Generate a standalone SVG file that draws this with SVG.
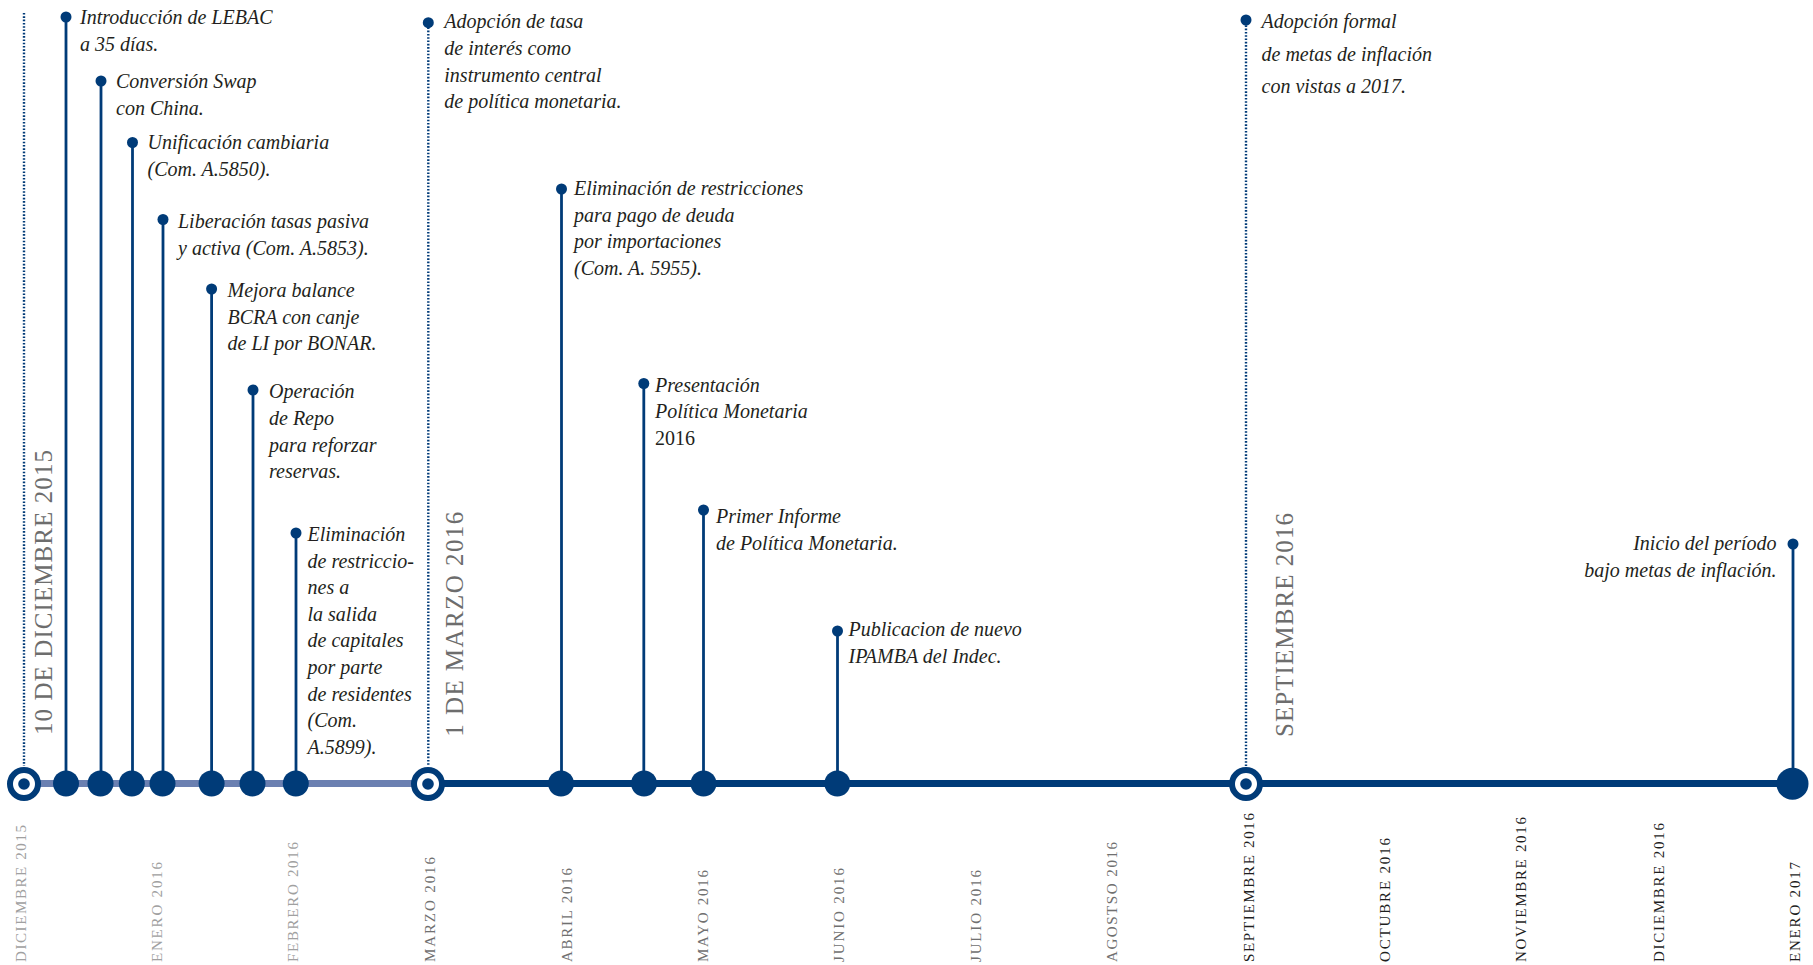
<svg xmlns="http://www.w3.org/2000/svg" width="1813" height="965" viewBox="0 0 1813 965">
<style>
.ev{font-family:"Liberation Serif","Times New Roman",serif;font-style:italic;font-size:20px;fill:#231f20}
.up{font-style:normal}
.big{font-family:"Liberation Serif","Times New Roman",serif;font-size:25px;fill:#6d6d6d}
.mo{font-family:"Liberation Serif","Times New Roman",serif;font-size:15px}
.m1{fill:#a0a0a0}.m2{fill:#707070}.m3{fill:#1e1e1e}
.stem{stroke:#003b78;stroke-width:2.8;fill:none}
.dot{stroke:#003b78;stroke-width:2.4;stroke-dasharray:1.6 1.7;fill:none}
.td{fill:#003b78}
.ad{fill:#003b78}
.ring{fill:#fff;stroke:#003b78;stroke-width:6}
</style>
<rect width="1813" height="965" fill="#fff"/>
<g id="connectors">
  <line x1="24" y1="783.5" x2="428" y2="783.5" stroke="#6b80b1" stroke-width="7"/>
  <line x1="428" y1="783.5" x2="1792" y2="783.5" stroke="#003b78" stroke-width="7"/>
  <line class="dot" x1="24" y1="13" x2="24" y2="766"/>
  <line class="dot" x1="428.3" y1="24" x2="428.3" y2="766"/>
  <line class="dot" x1="1246" y1="22" x2="1246" y2="766"/>
  <line class="stem" x1="66" y1="17" x2="66" y2="783"/>
  <line class="stem" x1="101" y1="81" x2="101" y2="783"/>
  <line class="stem" x1="132.5" y1="142.5" x2="132.5" y2="783"/>
  <line class="stem" x1="163" y1="219.5" x2="163" y2="783"/>
  <line class="stem" x1="211.6" y1="289" x2="211.6" y2="783"/>
  <line class="stem" x1="253" y1="390" x2="253" y2="783"/>
  <line class="stem" x1="296" y1="533" x2="296" y2="783"/>
  <line class="stem" x1="561.5" y1="189" x2="561.5" y2="783"/>
  <line class="stem" x1="643.8" y1="383.5" x2="643.8" y2="783"/>
  <line class="stem" x1="703.5" y1="510" x2="703.5" y2="783"/>
  <line class="stem" x1="837.5" y1="631" x2="837.5" y2="783"/>
  <line class="stem" x1="1793" y1="544" x2="1793" y2="783"/>
</g>
<g id="hito-dic2015">
  <circle class="ring" cx="24" cy="784" r="14"/>
  <circle class="ad" cx="24" cy="784" r="5.8"/>
  <text class="big" transform="translate(51.5,735) rotate(-90)" textLength="285" lengthAdjust="spacing">10 DE DICIEMBRE 2015</text>
</g>
<g id="ev1">
  <circle class="td" cx="66" cy="17" r="5.5"/>
  <circle class="ad" cx="66" cy="783.5" r="13"/>
  <text class="ev" x="80" y="24">Introducción de LEBAC</text>
  <text class="ev" x="80" y="51">a 35 días.</text>
</g>
<g id="ev2">
  <circle class="td" cx="101" cy="81" r="5.5"/>
  <circle class="ad" cx="100.5" cy="783.5" r="13"/>
  <text class="ev" x="116" y="88">Conversión Swap</text>
  <text class="ev" x="116" y="115">con China.</text>
</g>
<g id="ev3">
  <circle class="td" cx="132.5" cy="142.5" r="5.5"/>
  <circle class="ad" cx="131.8" cy="783.5" r="13"/>
  <text class="ev" x="147.5" y="149">Unificación cambiaria</text>
  <text class="ev" x="147.5" y="176">(Com. A.5850).</text>
</g>
<g id="ev4">
  <circle class="td" cx="163" cy="219.5" r="5.5"/>
  <circle class="ad" cx="162.5" cy="783.5" r="13"/>
  <text class="ev" x="178" y="228">Liberación tasas pasiva</text>
  <text class="ev" x="178" y="255">y activa (Com. A.5853).</text>
</g>
<g id="ev5">
  <circle class="td" cx="211.6" cy="289" r="5.5"/>
  <circle class="ad" cx="211.6" cy="783.5" r="13"/>
  <text class="ev" x="227.5" y="297">Mejora balance</text>
  <text class="ev" x="227.5" y="323.5">BCRA con canje</text>
  <text class="ev" x="227.5" y="350">de LI por BONAR.</text>
</g>
<g id="ev6">
  <circle class="td" cx="253" cy="390" r="5.5"/>
  <circle class="ad" cx="252.5" cy="783.5" r="13"/>
  <text class="ev" x="269" y="398">Operación</text>
  <text class="ev" x="269" y="425">de Repo</text>
  <text class="ev" x="269" y="451.5">para reforzar</text>
  <text class="ev" x="269" y="478">reservas.</text>
</g>
<g id="ev7">
  <circle class="td" cx="296" cy="533" r="5.5"/>
  <circle class="ad" cx="295.8" cy="783.5" r="13"/>
  <text class="ev" x="307.5" y="541">Eliminación</text>
  <text class="ev" x="307.5" y="567.6">de restriccio-</text>
  <text class="ev" x="307.5" y="594.2">nes a</text>
  <text class="ev" x="307.5" y="620.8">la salida</text>
  <text class="ev" x="307.5" y="647.4">de capitales</text>
  <text class="ev" x="307.5" y="674">por parte</text>
  <text class="ev" x="307.5" y="700.6">de residentes</text>
  <text class="ev" x="307.5" y="727.2">(Com.</text>
  <text class="ev" x="307.5" y="753.8">A.5899).</text>
</g>
<g id="hito-mar2016">
  <circle class="ring" cx="428" cy="784" r="14"/>
  <circle class="ad" cx="428" cy="784" r="5.8"/>
  <circle class="td" cx="428.3" cy="22.7" r="5.5"/>
  <text class="big" transform="translate(463,736.7) rotate(-90)" textLength="225" lengthAdjust="spacing">1 DE MARZO 2016</text>
  <text class="ev" x="444.3" y="28.3">Adopción de tasa</text>
  <text class="ev" x="444.3" y="55">de interés como</text>
  <text class="ev" x="444.3" y="81.7">instrumento central</text>
  <text class="ev" x="444.3" y="108.4">de política monetaria.</text>
</g>
<g id="ev9">
  <circle class="td" cx="561.5" cy="189" r="5.5"/>
  <circle class="ad" cx="561" cy="783.5" r="13"/>
  <text class="ev" x="574" y="195">Eliminación de restricciones</text>
  <text class="ev" x="574" y="221.7">para pago de deuda</text>
  <text class="ev" x="574" y="248.3">por importaciones</text>
  <text class="ev" x="574" y="275">(Com. A. 5955).</text>
</g>
<g id="ev10">
  <circle class="td" cx="643.8" cy="383.5" r="5.5"/>
  <circle class="ad" cx="644" cy="783.5" r="13"/>
  <text class="ev" x="655" y="391.7">Presentación</text>
  <text class="ev" x="655" y="418.3">Política Monetaria</text>
  <text class="ev up" x="655" y="445">2016</text>
</g>
<g id="ev11">
  <circle class="td" cx="703.5" cy="510" r="5.5"/>
  <circle class="ad" cx="703.5" cy="783.5" r="13"/>
  <text class="ev" x="716" y="523">Primer Informe</text>
  <text class="ev" x="716" y="549.5">de Política Monetaria.</text>
</g>
<g id="ev12">
  <circle class="td" cx="837.5" cy="631" r="5.5"/>
  <circle class="ad" cx="837.3" cy="783.5" r="13"/>
  <text class="ev" x="848.5" y="636">Publicacion de nuevo</text>
  <text class="ev" x="848.5" y="662.5">IPAMBA del Indec.</text>
</g>
<g id="hito-sep2016">
  <circle class="ring" cx="1246" cy="784" r="14"/>
  <circle class="ad" cx="1246" cy="784" r="5.8"/>
  <circle class="td" cx="1246" cy="20" r="5.5"/>
  <text class="big" transform="translate(1292.5,737) rotate(-90)" textLength="224" lengthAdjust="spacing">SEPTIEMBRE 2016</text>
  <text class="ev" x="1261.5" y="28.3">Adopción formal</text>
  <text class="ev" x="1261.5" y="60.5">de metas de inflación</text>
  <text class="ev" x="1261.5" y="92.5">con vistas a 2017.</text>
</g>
<g id="ev14">
  <circle class="td" cx="1793" cy="544" r="5.5"/>
  <circle class="ad" cx="1792.5" cy="783.8" r="16"/>
  <text class="ev" x="1776.5" y="550" text-anchor="end">Inicio del período</text>
  <text class="ev" x="1776.5" y="576.7" text-anchor="end">bajo metas de inflación.</text>
</g>
<g id="meses">
  <text class="mo m1" transform="translate(25.5,962) rotate(-90)" textLength="137" lengthAdjust="spacing">DICIEMBRE 2015</text>
  <text class="mo m1" transform="translate(161.5,962) rotate(-90)" textLength="100" lengthAdjust="spacing">ENERO 2016</text>
  <text class="mo m1" transform="translate(297.5,962) rotate(-90)" textLength="120" lengthAdjust="spacing">FEBRERO 2016</text>
  <text class="mo m2" transform="translate(434.5,962) rotate(-90)" textLength="105" lengthAdjust="spacing">MARZO 2016</text>
  <text class="mo m2" transform="translate(571.5,962) rotate(-90)" textLength="94" lengthAdjust="spacing">ABRIL 2016</text>
  <text class="mo m2" transform="translate(708,962) rotate(-90)" textLength="92" lengthAdjust="spacing">MAYO 2016</text>
  <text class="mo m2" transform="translate(844,962) rotate(-90)" textLength="94" lengthAdjust="spacing">JUNIO 2016</text>
  <text class="mo m2" transform="translate(981,962) rotate(-90)" textLength="92" lengthAdjust="spacing">JULIO 2016</text>
  <text class="mo m2" transform="translate(1116.5,962) rotate(-90)" textLength="120" lengthAdjust="spacing">AGOSTSO 2016</text>
  <text class="mo m3" transform="translate(1254,962) rotate(-90)" textLength="149" lengthAdjust="spacing">SEPTIEMBRE 2016</text>
  <text class="mo m3" transform="translate(1389.5,962) rotate(-90)" textLength="124" lengthAdjust="spacing">OCTUBRE 2016</text>
  <text class="mo m3" transform="translate(1526,962) rotate(-90)" textLength="145" lengthAdjust="spacing">NOVIEMBRE 2016</text>
  <text class="mo m3" transform="translate(1664,962) rotate(-90)" textLength="139" lengthAdjust="spacing">DICIEMBRE 2016</text>
  <text class="mo m3" transform="translate(1800,962) rotate(-90)" textLength="100" lengthAdjust="spacing">ENERO 2017</text>
</g>
</svg>
